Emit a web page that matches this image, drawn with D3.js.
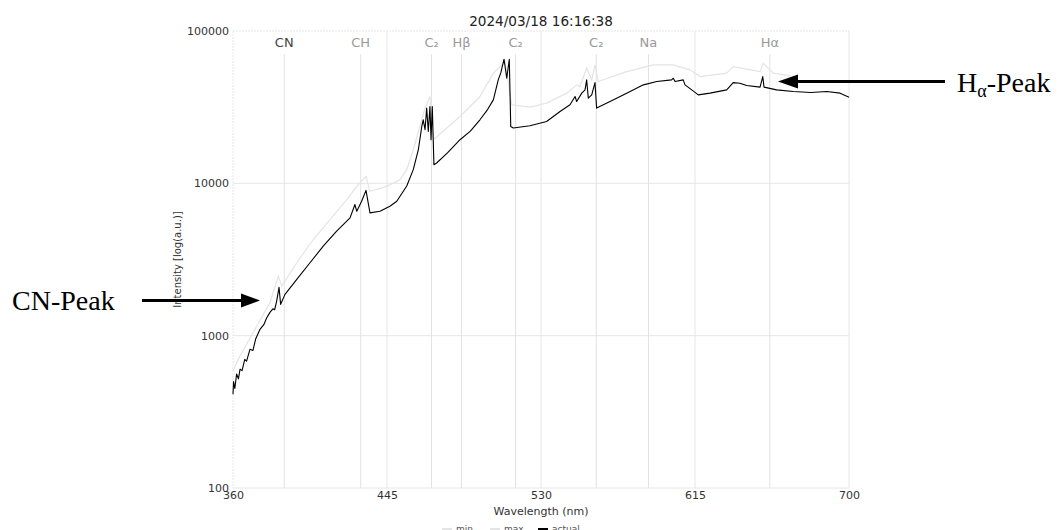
<!DOCTYPE html>
<html>
<head>
<meta charset="utf-8">
<script src="https://cdn.jsdelivr.net/npm/d3@7"></script>
<style>
  body { margin: 0; background: #fff; }
  text { font-family: "DejaVu Sans", sans-serif; }
</style>
</head>
<body>
<div id="container"></div>
<script>
// Chart data
const title = "2024/03/18 16:16:38";
const xTicks = [360, 445, 530, 615, 700];
const yTicks = [100, 1000, 10000, 100000];
const lineNames = ["CN", "CH", "C₂", "Hβ", "C₂", "C₂", "Na", "Hα"];
const lineWavelengths = [388.3, 430.5, 469.6, 486.1, 516.0, 560.5, 589.3, 656.3];
const legendNames = ["min", "max", "actual"];

// actual spectrum [wavelength nm, intensity]
const actual = [
  [360, 413], [360.3, 500], [361, 450], [362, 560], [363, 520], [363.9, 603], [365, 590],
  [366.5, 700], [367.5, 680], [369.4, 815], [371, 800], [372.5, 950], [374.9, 1101],
  [377, 1180], [378.5, 1300], [380.4, 1422], [382, 1500], [383, 1480], [384.1, 1687],
  [385.4, 2075], [386.3, 1606], [388.7, 1866], [395.2, 2340], [402.5, 3012], [409.8, 3867],
  [417.2, 4850], [424.6, 5935], [427.3, 7255], [428.3, 6555], [431.0, 7620], [433.4, 8996],
  [435.6, 6400], [441.1, 6555], [446.6, 7070], [450.4, 7620], [452.2, 8220], [455.9, 9600],
  [459.5, 12300], [462.3, 16620], [464.2, 23620], [465.0, 26130], [466.0, 22480],
  [466.9, 31180], [467.8, 21900], [468.7, 31940], [469.3, 19330], [470.0, 31940],
  [470.9, 13250], [472.4, 13600], [478.5, 15900], [485.3, 19330], [491, 22000],
  [496.3, 26130], [500.5, 30500], [503.7, 35320],
  [506.4, 47760], [507.8, 53090], [509.6, 65270], [511.1, 48980], [512.5, 65270],
  [513.3, 23620], [514.7, 23060], [523.9, 23870], [533.1, 25470], [540.5, 29610],
  [546.0, 32760], [548.8, 37130], [549.7, 34430], [552.5, 39090], [554.3, 41080],
  [555.2, 47760], [556.1, 36250], [558.0, 38100], [559.8, 45850], [560.7, 31180],
  [568.1, 34430], [577.3, 39090], [586.5, 44300], [593.9, 46560], [602.1, 47760],
  [603.0, 48980], [604.0, 46560], [608.5, 47760], [609.5, 44300], [613.2, 41080],
  [616.8, 38100], [623.3, 39090], [632.5, 41080], [636.1, 45850], [639.8, 45440],
  [643.5, 43840], [650.9, 42790], [652.4, 50210], [653.1, 42790], [660.1, 41080],
  [669.3, 40050], [678.9, 39440], [687.7, 40050], [695.1, 39090], [700, 36800]
];

// max spectrum [wavelength nm, intensity]
const maxSpec = [
  [360, 587], [363.9, 737], [373.1, 1157], [380.4, 1647], [385.0, 2460], [386.9, 2116],
  [395.2, 3012], [404.3, 4277], [413.5, 5785], [422.8, 7823], [428.3, 9557], [433.4, 11110],
  [435.6, 8863], [444.8, 9557], [452.2, 10570], [455.9, 12300], [459.5, 16620],
  [464.2, 26130], [466.0, 31180], [468.7, 37130], [470.6, 19330], [485.3, 27470],
  [496.3, 37130], [503.7, 52840], [508.3, 59880], [510.1, 62950], [513.8, 32760],
  [523.9, 31650], [533.1, 33620], [544.2, 39090], [549.7, 44300], [551.5, 43180],
  [555.2, 56980], [558.0, 47760], [559.8, 59880], [561.6, 46560], [577.3, 54140],
  [592.0, 59880], [603.0, 59880], [612.2, 55570], [617.8, 50210], [632.5, 52840],
  [636.1, 58380], [643.5, 56130], [650.9, 54140], [652.7, 61430], [658.2, 52840],
  [667.8, 50740]
];

const W = 1060, H = 530;
const plot = {left: 233, right: 849, top: 31, bottom: 488};

const svg = d3.select("#container").append("svg")
  .attr("width", W)
  .attr("height", H);

const x = d3.scaleLinear().domain([360, 700]).range([plot.left, plot.right]);
const y = d3.scaleLog().domain([100, 100000]).range([plot.bottom, plot.top]);

// grid
svg.append("g").selectAll("line")
  .data(yTicks)
  .enter().append("line")
  .attr("x1", plot.left).attr("x2", plot.right)
  .attr("y1", d => y(d)).attr("y2", d => y(d))
  .style("stroke", "#e6e6e6")
  .style("stroke-dasharray", d => d === 100000 ? "2,1" : null);

svg.append("g").selectAll("line")
  .data(xTicks)
  .enter().append("line")
  .attr("x1", d => x(d)).attr("x2", d => x(d))
  .attr("y1", plot.top).attr("y2", plot.bottom)
  .style("stroke", "#e6e6e6")
  .style("stroke-dasharray", d => d === 360 ? "2,1" : null);

// spectral line markers
svg.append("g").selectAll("line")
  .data(lineWavelengths)
  .enter().append("line")
  .attr("x1", d => x(d)).attr("x2", d => x(d))
  .attr("y1", 54).attr("y2", plot.bottom)
  .style("stroke", "#e2e2e2");

svg.append("g").selectAll("text")
  .data(lineNames)
  .enter().append("text")
  .attr("x", (d, i) => x(lineWavelengths[i]))
  .attr("y", 47)
  .attr("text-anchor", "middle")
  .style("font-size", "13px")
  .style("fill", (d, i) => i === 0 ? "#444" : "#999")
  .text(d => d);

// axes
const xAxis = svg.append("g")
  .attr("transform", `translate(0,${plot.bottom})`)
  .call(d3.axisBottom(x).tickValues(xTicks).tickSize(0).tickPadding(3).tickFormat(d3.format("d")));
xAxis.select(".domain").remove();
xAxis.selectAll("text").style("font-size", "11px").style("fill", "#333")
  .style("font-family", "DejaVu Sans");

const yAxis = svg.append("g")
  .attr("transform", `translate(${plot.left},0)`)
  .call(d3.axisLeft(y).tickValues(yTicks).tickSize(0).tickPadding(4).tickFormat(d3.format("d")));
yAxis.select(".domain").remove();
yAxis.selectAll("text").style("font-size", "11px").style("fill", "#333")
  .style("font-family", "DejaVu Sans");

// series
const line = d3.line()
  .x(d => x(d[0]))
  .y(d => y(d[1]));

svg.append("path")
  .datum(maxSpec)
  .attr("d", line)
  .style("fill", "none")
  .style("stroke", "#e4e4e4")
  .style("stroke-width", 1.2);

svg.append("path")
  .datum(actual)
  .attr("d", line)
  .style("fill", "none")
  .style("stroke", "#000")
  .style("stroke-width", 1.1)
  .style("stroke-linejoin", "round");

// titles
svg.append("text")
  .attr("x", (plot.left + plot.right) / 2)
  .attr("y", 26)
  .attr("text-anchor", "middle")
  .style("font-size", "13.6px")
  .style("fill", "#222")
  .text(title);

svg.append("text")
  .attr("x", (plot.left + plot.right) / 2)
  .attr("y", 515)
  .attr("text-anchor", "middle")
  .style("font-size", "11px")
  .style("fill", "#333")
  .text("Wavelength (nm)");

svg.append("text")
  .attr("transform", `translate(181,${(plot.top + plot.bottom) / 2}) rotate(-90)`)
  .attr("text-anchor", "middle")
  .style("font-size", "10px")
  .style("fill", "#333")
  .text("Intensity [log(a.u.)]");

// legend
const legendX = [442, 490, 538];
const legend = svg.selectAll(".legend")
  .data(legendNames)
  .enter().append("g")
  .attr("class", "legend")
  .attr("transform", (d, i) => `translate(${legendX[i]},529)`);

legend.append("line")
  .attr("x1", 0).attr("x2", 10)
  .style("stroke", (d, i) => i === 2 ? "#000" : "#dcdcdc")
  .style("stroke-width", (d, i) => i === 2 ? 2 : 1.5);

legend.append("text")
  .attr("x", 14)
  .attr("y", 3)
  .style("font-size", "9px")
  .style("fill", "#555")
  .text(d => d);

// annotations
function arrow(x1, x2, yy, headLen) {
  const dir = x2 > x1 ? 1 : -1;
  svg.append("line")
    .attr("x1", x1).attr("y1", yy)
    .attr("x2", x2 - dir * headLen + dir * 2).attr("y2", yy)
    .style("stroke", "#000")
    .style("stroke-width", 3.2);
  svg.append("path")
    .attr("d", `M${x2},${yy} L${x2 - dir * headLen},${yy - 7} L${x2 - dir * headLen},${yy + 7} Z`)
    .style("fill", "#000");
}

arrow(142, 260, 300.5, 19);
arrow(945, 778, 81.5, 20);

svg.append("text")
  .attr("x", 12)
  .attr("y", 310)
  .style("font-family", "Liberation Serif, serif")
  .style("font-size", "28px")
  .style("fill", "#000")
  .text("CN-Peak");

const ha = svg.append("text")
  .attr("x", 957)
  .attr("y", 92)
  .style("font-family", "Liberation Serif, serif")
  .style("font-size", "28px")
  .style("fill", "#000");
ha.append("tspan").text("H");
ha.append("tspan").attr("dy", 5).style("font-size", "18px").text("α");
ha.append("tspan").attr("dy", -5).text("-Peak");
</script>
</body>
</html>
